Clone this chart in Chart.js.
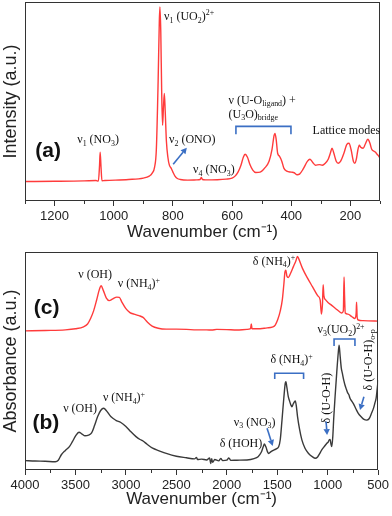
<!DOCTYPE html>
<html><head><meta charset="utf-8">
<script src="https://cdn.jsdelivr.net/npm/chart.js@4.4.0/dist/chart.umd.min.js"></script>
<style>
html,body{margin:0;padding:0;background:#fff;}
#wrap{position:relative;width:392px;height:516px;overflow:hidden;}
#c1{position:absolute;left:0;top:0;}
#c2{position:absolute;left:0;top:245px;}
</style></head><body>
<div id="wrap"><canvas id="c1" width="392" height="250"></canvas><canvas id="c2" width="392" height="271"></canvas></div>
<script>
// ---- Data ----
const ramanWn = [1300,1200,1100,1060,1052,1048,1046,1043,1040,1030,950,900,880,870,862,856,850,846,844,841,838,835,832,829,826,822,817,812,806,800,793,785,775,750,720,708,704,700,690,650,620,600,590,580,570,562,556,548,540,530,520,505,490,475,465,458,455,451,446,440,432,425,415,400,390,380,372,360,345,337,328,318,305,295,285,275,268,262,256,248,241,233,222,212,205,198,190,185,180,175,170,165,157,150,141,134,128,120,115,110,104,100];
const ramanInt = [9.8,9.9,10.1,10.3,10.0,18,24.5,17,10.2,10.3,10.8,11.5,12.5,14,17,26,60,90,97.5,85,55,38,47,54,45,30,22,18,16.5,14.5,12.5,11.3,10.8,10.5,10.6,10.8,11.8,10.8,10.6,10.7,11,11.5,12.5,14.5,18,22,23.5,22,18.5,15.5,14.3,14.5,16.5,20,26,33,34,31,24,22.5,20,16.5,15,14.5,14.2,13.2,13.5,16,20,21,19.5,18,18.3,18,19,21,24,26.5,24,20,19,20,24,28.5,29,26,20,19,21,25.5,28,27,26.5,28.5,31,29,26,25,24.5,23.5,22.5,21.5];

const irWnC = [4000,3800,3600,3500,3420,3380,3350,3320,3290,3265,3245,3225,3195,3165,3130,3090,3065,3040,3000,2960,2920,2870,2830,2790,2740,2680,2600,2500,2400,2300,2200,2150,2100,2000,1900,1800,1765,1757,1750,1700,1600,1550,1520,1495,1470,1450,1435,1423,1414,1405,1390,1370,1340,1315,1300,1290,1250,1200,1150,1100,1075,1062,1052,1045,1038,1020,1000,960,920,880,862,845,838,833,826,800,760,730,718,714,708,697,650,600,500];
const irAbsC = [63.8,64.0,64.3,64.8,65.7,67,69.5,73,78,82.5,84.5,82.5,79,77.7,78.5,79.3,79.2,77,74,72.2,71.5,70.8,70,68,66,65,64.6,64.6,64.5,64.3,64.3,64.2,64.5,64.4,64.2,64.5,64.8,67,64.8,64.8,65.2,65.5,66.5,69,73,78,85,91,91.6,89,88.3,90,93.3,96,98,97.2,92.5,88,84,80,78,71.5,76,85,80,78,77,75.5,74,72.5,72,73,88.5,80,72,71.5,70.3,69.5,72,77,70,68.8,68.5,68.4,68.3];

const irWnB = [4000,3900,3800,3700,3670,3640,3600,3560,3530,3500,3465,3435,3405,3370,3340,3310,3280,3250,3220,3190,3150,3100,3050,3000,2950,2900,2860,2830,2790,2735,2670,2600,2500,2400,2320,2300,2290,2250,2200,2170,2160,2150,2140,2120,2080,2060,2040,2000,1980,1960,1900,1800,1730,1690,1660,1640,1627,1612,1595,1585,1565,1545,1515,1486,1470,1453,1435,1420,1414,1405,1390,1381,1365,1355,1340,1321,1310,1299,1280,1256,1225,1190,1150,1124,1100,1080,1059,1030,1010,995,985,976,968,960,950,940,927,910,895,887,878,866,855,840,829,815,803,790,779,760,747,720,697,670,640,615,590,566,545,533,520,510,500];
const irAbsB = [4.3,4.1,4.0,3.8,4.5,7,9,10.7,13,15.5,17.3,16.5,15.7,16,17,20.5,24.5,27.3,28.3,27,24.5,22.8,21.8,20,17.5,15.3,14,13.3,11.8,10,8.8,7.6,6.3,5.6,5.1,5.8,4.8,5,4.6,5.5,3,5.2,3.5,4.8,4.2,5.3,4.3,4.5,5.5,4.4,4.5,4.6,5.2,6.1,8,10.5,11.9,10.5,8.2,7.6,8.3,8.9,9.6,10.7,14,22.9,33,40,40.5,38,33.5,32.1,29.8,29,30.5,31.7,29,24.5,19,13.8,10,7.6,6,5.4,6,7.5,9.2,11,12.2,12.8,13.8,14,12,10.7,15,24,33.6,45,54,57.3,53,47,44.4,41,39,37,35.5,34.5,32.9,31.5,30.6,28,26,24.5,23.2,22.9,23.5,26,28.5,30.6,33,37,41.3];

const ramanTicks = [1200,1000,800,600,400,200];
const ramanMinor = [1300,1100,900,700,500,300,100];
const irTicks = [4000,3500,3000,2500,2000,1500,1000,500];
const irMinor = [3750,3250,2750,2250,1750,1250,750];

const RED = '#ff3b3b', DARK = '#3a3a3a', BLUE = '#3b6fc4';
const SANS = '"Liberation Sans", Arial, sans-serif';
const SERIF = '"Liberation Serif", "Times New Roman", serif';

function pts(xs, ys){ return xs.map((x,i)=>({x:x, y:ys[i]})); }

// ---- rich text helpers ----
function parseRich(s){
  const out=[]; let i=0, buf='';
  while(i<s.length){
    const ch=s[i];
    if((ch==='_'||ch==='^') && s[i+1]==='{'){
      if(buf){out.push([buf,0]);buf='';}
      const j=s.indexOf('}',i);
      out.push([s.slice(i+2,j), ch==='_'?1:-1]); i=j+1;
    } else {buf+=ch;i++;}
  }
  if(buf) out.push([buf,0]);
  return out;
}
function drawRich(ctx, s, x, y, align, size, rot){
  const segs=parseRich(s);
  const small=size*0.66;
  let w=0;
  segs.forEach(([t,m])=>{ ctx.font=(m?small:size)+'px '+SERIF; w+=ctx.measureText(t).width; });
  ctx.save();
  ctx.translate(x,y);
  if(rot) ctx.rotate(rot);
  let cx = align==='center' ? -w/2 : (align==='right' ? -w : 0);
  const base = size*0.34;
  ctx.fillStyle='#111'; ctx.textAlign='left'; ctx.textBaseline='alphabetic';
  segs.forEach(([t,m])=>{
    ctx.font=(m?small:size)+'px '+SERIF;
    const dy = m===1 ? size*0.22 : (m===-1 ? -size*0.38 : 0);
    ctx.fillText(t, cx, base+dy);
    cx += ctx.measureText(t).width;
  });
  ctx.restore();
}
function arrow(ctx,x1,y1,x2,y2){
  ctx.save(); ctx.strokeStyle=BLUE; ctx.fillStyle=BLUE; ctx.lineWidth=1.6;
  const a=Math.atan2(y2-y1,x2-x1), L=6, W=3.2;
  const bx=x2-L*Math.cos(a), by=y2-L*Math.sin(a);
  ctx.beginPath(); ctx.moveTo(x1,y1); ctx.lineTo(bx,by); ctx.stroke();
  ctx.beginPath(); ctx.moveTo(x2,y2);
  ctx.lineTo(bx+W*Math.sin(a), by-W*Math.cos(a));
  ctx.lineTo(bx-W*Math.sin(a), by+W*Math.cos(a));
  ctx.closePath(); ctx.fill(); ctx.restore();
}
function bracket(ctx,xl,xr,yt,yb){
  ctx.save(); ctx.strokeStyle=BLUE; ctx.lineWidth=1.6;
  ctx.beginPath(); ctx.moveTo(xl,yb); ctx.lineTo(xl,yt); ctx.lineTo(xr,yt); ctx.lineTo(xr,yb); ctx.stroke();
  ctx.restore();
}
function panelLabel(ctx, t, x, y){
  ctx.save(); ctx.font='bold 21px '+SANS; ctx.fillStyle='#111'; ctx.textAlign='center'; ctx.textBaseline='middle';
  ctx.fillText(t,x,y); ctx.restore();
}

// annotations in data coordinates
const ramanNotes = [
  ['ν_{1} (NO_{3})', 1053, 31, 'center'],
  ['ν_{1} (UO_{2})^{2+}', 830, 93, 'left'],
  ['ν_{2} (ONO)', 813, 31, 'left'],
  ['ν_{4} (NO_{3})', 732, 16, 'left'],
  ['ν (U-O_{ligand}) +', 612, 51, 'left'],
  ['(U_{3}O)_{bridge}', 612, 44, 'left'],
  ['Lattice modes', 328, 35.5, 'left']
];
const irNotes = [
  ['ν (OH)', 3305, 89.8, 'center'],
  ['ν (NH_{4})^{+}', 3080, 85.6, 'left'],
  ['δ (NH_{4})^{+}', 1742, 96, 'left'],
  ['ν (OH)', 3622, 28.3, 'left'],
  ['ν (NH_{4})^{+}', 3228, 33.3, 'left'],
  ['δ (HOH)', 2071, 12.2, 'left'],
  ['ν_{3} (NO_{3})', 1930, 22.2, 'left'],
  ['δ (NH_{4})^{+}', 1568, 50.9, 'left'],
  ['ν_{3}(UO_{2})^{2+}', 1101, 64.5, 'left']
];
const irRotNotes = [
  ['δ (U-O-H)', 1016, 33],
  ['δ (U-O-H)_{o-p}', 602, 50.5]
];

function deco(minors, extra){
  return {
    id:'deco',
    afterDraw(chart){
      const {ctx, chartArea:a, scales:{x,y}} = chart;
      ctx.save();
      ctx.strokeStyle='#333'; ctx.lineWidth=1;
      ctx.strokeRect(Math.round(a.left)+0.5, Math.round(a.top)+0.5, Math.round(a.right-a.left)-1, Math.round(a.bottom-a.top)-1);
      ctx.beginPath();
      minors.forEach(v=>{ const px=Math.round(x.getPixelForValue(v))+0.5; ctx.moveTo(px,a.bottom); ctx.lineTo(px,a.bottom+3); });
      ctx.stroke();
      extra(ctx, x, y);
      ctx.restore();
    }
  };
}

function makeOpts(xmin, xmax, ticks, ylabel, xAxisH, padTop, titlePadBottom){
  return {
    responsive:false, animation:false, events:[],
    layout:{padding:{left:0,right:12,top:padTop,bottom:0}},
    plugins:{legend:{display:false}, tooltip:{enabled:false}},
    elements:{point:{radius:0}},
    scales:{
      x:{type:'linear', reverse:true, min:xmin, max:xmax,
        afterBuildTicks: s => { s.ticks = ticks.map(v=>({value:v})); },
        afterFit: s => { s.height = xAxisH; },
        grid:{display:true, drawOnChartArea:false, drawTicks:true, tickLength:5, color:'#333', tickWidth:1},
        border:{display:false},
        ticks:{font:{family:SANS, size:13}, color:'#222', maxRotation:0, autoSkip:false, padding:3, callback: v => String(v)},
        title:{display:true, text:'Wavenumber (cm⁻¹)', font:{family:SANS, size:17}, color:'#222', padding:{top:0,bottom:titlePadBottom}}
      },
      y:{type:'linear', min:0, max:100,
        afterFit: s => { s.width = 25; },
        ticks:{display:false}, grid:{display:false}, border:{display:false},
        title:{display:true, text:ylabel, font:{family:SANS, size:18}, color:'#222', padding:{top:0,bottom:0}}
      }
    }
  };
}

const ds = (data, color) => ({data, borderColor:color, borderWidth:1.4, showLine:true, pointRadius:0, fill:false, cubicInterpolationMode:'monotone'});

new Chart(document.getElementById('c1'), {
  type:'scatter',
  data:{datasets:[ds(pts(ramanWn, ramanInt), RED)]},
  options: makeOpts(100, 1300, ramanTicks, 'Intensity (a.u.)', 49, 2, 7),
  plugins:[deco(ramanMinor, (ctx,x,y)=>{
    ramanNotes.forEach(([t,w,v,al])=>drawRich(ctx,t,x.getPixelForValue(w),y.getPixelForValue(v),al,12,0));
    arrow(ctx, x.getPixelForValue(799), y.getPixelForValue(18.5), x.getPixelForValue(753), y.getPixelForValue(26.8));
    bracket(ctx, x.getPixelForValue(587), x.getPixelForValue(401), y.getPixelForValue(37.5), y.getPixelForValue(33.5));
    panelLabel(ctx,'(a)', x.getPixelForValue(1222), y.getPixelForValue(25));
  })]
});

new Chart(document.getElementById('c2'), {
  type:'scatter',
  data:{datasets:[ds(pts(irWnC, irAbsC), RED), ds(pts(irWnB, irAbsB), DARK)]},
  options: makeOpts(500, 4000, irTicks, 'Absorbance (a.u.)', 46, 7, 6),
  plugins:[deco(irMinor, (ctx,x,y)=>{
    irNotes.forEach(([t,w,v,al])=>drawRich(ctx,t,x.getPixelForValue(w),y.getPixelForValue(v),al,12,0));
    irRotNotes.forEach(([t,w,v])=>drawRich(ctx,t,x.getPixelForValue(w),y.getPixelForValue(v),'center',12,-Math.PI/2));
    arrow(ctx, x.getPixelForValue(1601), y.getPixelForValue(19.1), x.getPixelForValue(1545), y.getPixelForValue(11));
    arrow(ctx, x.getPixelForValue(1016), y.getPixelForValue(22.2), x.getPixelForValue(1006), y.getPixelForValue(16));
    arrow(ctx, x.getPixelForValue(641), y.getPixelForValue(33.6), x.getPixelForValue(680), y.getPixelForValue(27.5));
    bracket(ctx, x.getPixelForValue(1525), x.getPixelForValue(1239), y.getPixelForValue(44.4), y.getPixelForValue(41.7));
    bracket(ctx, x.getPixelForValue(937), x.getPixelForValue(730), y.getPixelForValue(60.1), y.getPixelForValue(56.9));
    panelLabel(ctx,'(c)', x.getPixelForValue(3786), y.getPixelForValue(74.3));
    panelLabel(ctx,'(b)', x.getPixelForValue(3793), y.getPixelForValue(21.6));
  })]
});
</script>
</body></html>
